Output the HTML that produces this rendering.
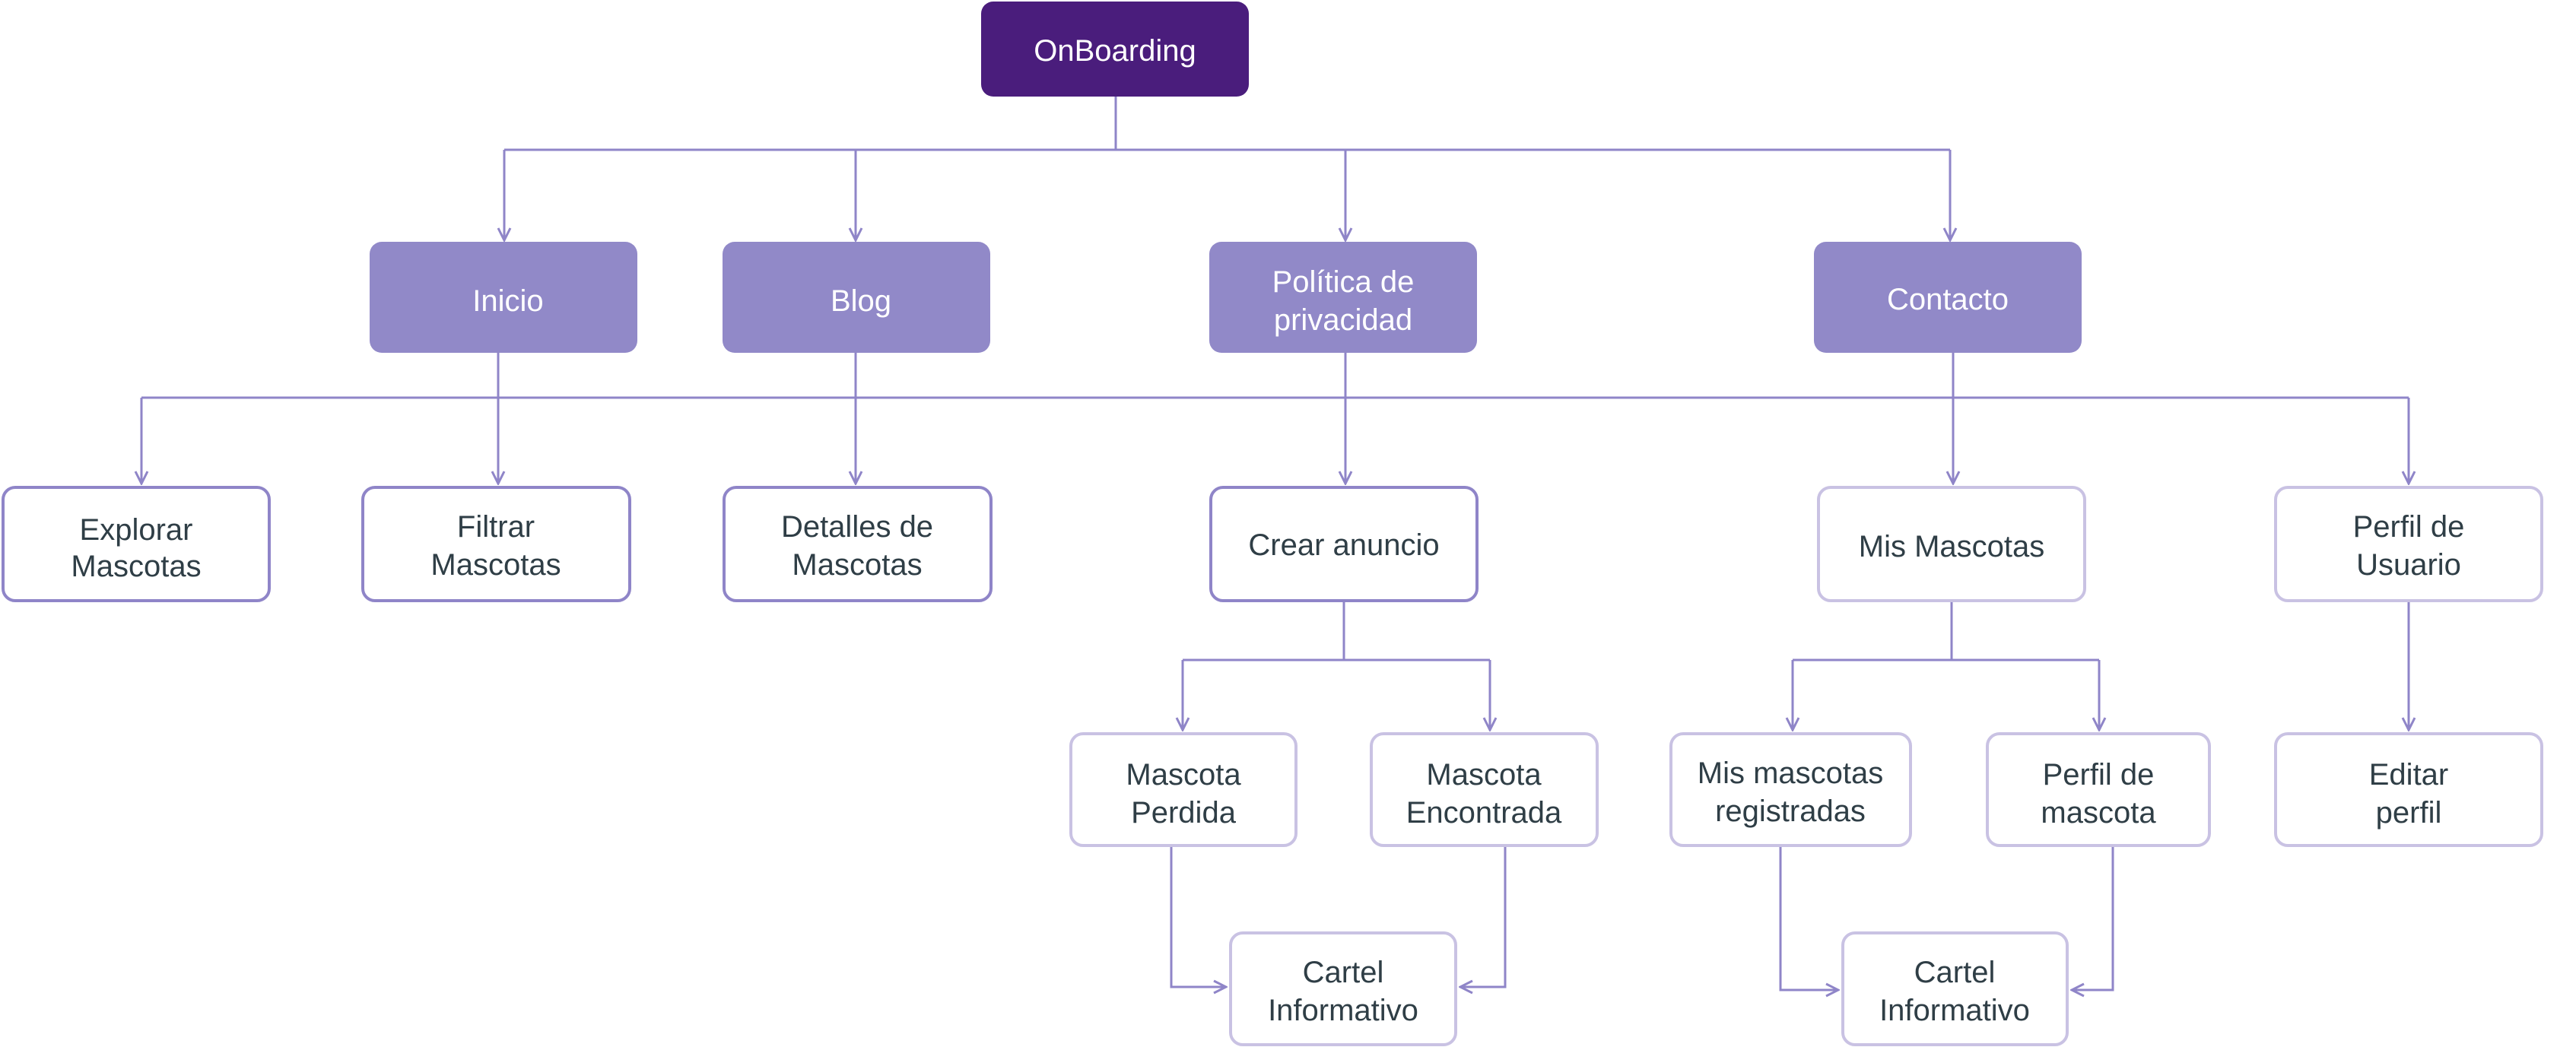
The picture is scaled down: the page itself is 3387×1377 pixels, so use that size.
<!DOCTYPE html>
<html><head><meta charset="utf-8"><style>
html,body{margin:0;padding:0;background:#fff;}
svg{display:block;}
text{font-family:"Liberation Sans",sans-serif;font-size:40px;text-anchor:middle;}
.d{fill:#2f3e46;}
.w{fill:#fff;}
.ln{stroke:#8f85c8;stroke-width:3;fill:none;}
.ar{stroke:#8f85c8;stroke-width:3;fill:none;}
</style></head><body>
<svg width="3387" height="1377" viewBox="0 0 3387 1377" xmlns="http://www.w3.org/2000/svg">
<defs>
<marker id="a" viewBox="0 0 20 20" refX="18" refY="10" markerWidth="20" markerHeight="20" markerUnits="userSpaceOnUse" orient="auto">
<path d="M2,2 L18,10 L2,18" fill="none" stroke="#8f85c8" stroke-width="3"/>
</marker>
</defs>
<!-- connectors -->
<path class="ln" d="M1467,127 V197"/>
<path class="ln" d="M663,197 H2564"/>
<path class="ln" d="M663,197 V316" marker-end="url(#a)"/>
<path class="ln" d="M1125,197 V316" marker-end="url(#a)"/>
<path class="ln" d="M1769,197 V316" marker-end="url(#a)"/>
<path class="ln" d="M2564,197 V316" marker-end="url(#a)"/>
<path class="ln" d="M186,523 H3167"/>
<path class="ln" d="M186,523 V636" marker-end="url(#a)"/>
<path class="ln" d="M655,464 V636" marker-end="url(#a)"/>
<path class="ln" d="M1125,464 V636" marker-end="url(#a)"/>
<path class="ln" d="M1769,464 V636" marker-end="url(#a)"/>
<path class="ln" d="M2568,464 V636" marker-end="url(#a)"/>
<path class="ln" d="M3167,523 V636" marker-end="url(#a)"/>
<path class="ln" d="M1767,791 V868"/>
<path class="ln" d="M1555,868 H1959"/>
<path class="ln" d="M1555,868 V960" marker-end="url(#a)"/>
<path class="ln" d="M1959,868 V960" marker-end="url(#a)"/>
<path class="ln" d="M2566,791 V868"/>
<path class="ln" d="M2357,868 H2760"/>
<path class="ln" d="M2357,868 V960" marker-end="url(#a)"/>
<path class="ln" d="M2760,868 V960" marker-end="url(#a)"/>
<path class="ln" d="M3167,791 V960" marker-end="url(#a)"/>
<path class="ln" d="M1540,1113 V1298 H1612" marker-end="url(#a)"/>
<path class="ln" d="M1979,1113 V1298 H1920" marker-end="url(#a)"/>
<path class="ln" d="M2341,1113 V1302 H2417" marker-end="url(#a)"/>
<path class="ln" d="M2778,1113 V1302 H2724" marker-end="url(#a)"/>
<!-- root -->
<rect x="1290" y="2" width="352" height="125" rx="16" fill="#4a1d7c"/>
<text class="w" x="1466" y="80">OnBoarding</text>
<!-- level 2 -->
<g fill="#9189c8">
<rect x="486" y="318" width="352" height="146" rx="16"/>
<rect x="950" y="318" width="352" height="146" rx="16"/>
<rect x="1590" y="318" width="352" height="146" rx="16"/>
<rect x="2385" y="318" width="352" height="146" rx="16"/>
</g>
<text class="w" x="668" y="409">Inicio</text>
<text class="w" x="1132" y="409">Blog</text>
<text class="w" x="1766" y="384">Política de</text>
<text class="w" x="1766" y="434">privacidad</text>
<text class="w" x="2561" y="407">Contacto</text>
<!-- level 3 -->
<g fill="#fff" stroke="#8f85c8" stroke-width="4">
<rect x="4" y="641" width="350" height="149" rx="16"/>
<rect x="477" y="641" width="351" height="149" rx="16"/>
<rect x="952" y="641" width="351" height="149" rx="16"/>
<rect x="1592" y="641" width="350" height="149" rx="16"/>
</g>
<g fill="#fff" stroke="#c9c2e3" stroke-width="4">
<rect x="2391" y="641" width="350" height="149" rx="16"/>
<rect x="2992" y="641" width="350" height="149" rx="16"/>
<rect x="1408" y="965" width="296" height="147" rx="16"/>
<rect x="1803" y="965" width="297" height="147" rx="16"/>
<rect x="2197" y="965" width="315" height="147" rx="16"/>
<rect x="2613" y="965" width="292" height="147" rx="16"/>
<rect x="2992" y="965" width="350" height="147" rx="16"/>
<rect x="1618" y="1227" width="296" height="147" rx="16"/>
<rect x="2423" y="1227" width="295" height="147" rx="16"/>
</g>
<text class="d" x="179" y="710">Explorar</text><text class="d" x="179" y="758">Mascotas</text>
<text class="d" x="652" y="706">Filtrar</text><text class="d" x="652" y="756">Mascotas</text>
<text class="d" x="1127" y="706">Detalles de</text><text class="d" x="1127" y="756">Mascotas</text>
<text class="d" x="1767" y="730">Crear anuncio</text>
<text class="d" x="2566" y="732">Mis Mascotas</text>
<text class="d" x="3167" y="706">Perfil de</text><text class="d" x="3167" y="756">Usuario</text>
<text class="d" x="1556" y="1032">Mascota</text><text class="d" x="1556" y="1082">Perdida</text>
<text class="d" x="1951" y="1032">Mascota</text><text class="d" x="1951" y="1082">Encontrada</text>
<text class="d" x="2354" y="1030">Mis mascotas</text><text class="d" x="2354" y="1080">registradas</text>
<text class="d" x="2759" y="1032">Perfil de</text><text class="d" x="2759" y="1082">mascota</text>
<text class="d" x="3167" y="1032">Editar</text><text class="d" x="3167" y="1082">perfil</text>
<text class="d" x="1766" y="1292">Cartel</text><text class="d" x="1766" y="1342">Informativo</text>
<text class="d" x="2570" y="1292">Cartel</text><text class="d" x="2570" y="1342">Informativo</text>
</svg>
</body></html>
